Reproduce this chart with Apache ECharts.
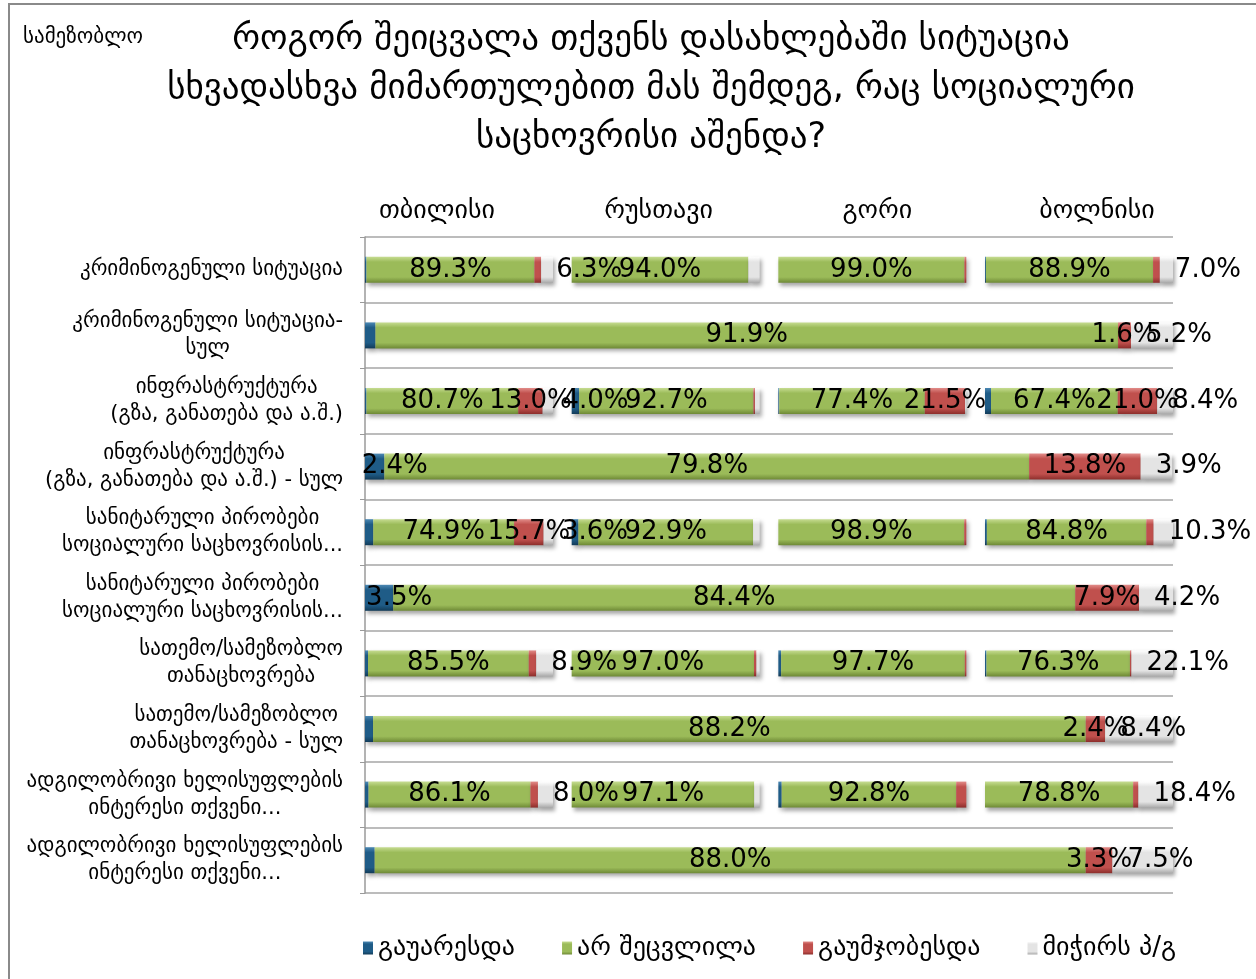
<!DOCTYPE html>
<html><head><meta charset="utf-8">
<script src="https://cdn.jsdelivr.net/npm/echarts@6/dist/echarts.min.js"></script>
<style>
html,body{margin:0;padding:0;background:#fff;overflow:hidden;}
#chart{position:absolute;left:0;top:0;width:1256px;height:979px;}
#frame{position:absolute;left:8px;top:3px;width:1270px;height:1000px;border:2px solid #8a8a8a;pointer-events:none;box-sizing:border-box;}
</style></head><body>
<div id="chart"></div><div id="frame"></div>
<script>
// ---------- data ----------
const cities = ['თბილისი', 'რუსთავი', 'გორი', 'ბოლნისი'];
const categories = [
  'კრიმინოგენული სიტუაცია',
  'კრიმინოგენული სიტუაცია-\nსულ',
  'ინფრასტრუქტურა\n(გზა, განათება და ა.შ.)',
  'ინფრასტრუქტურა\n(გზა, განათება და ა.შ.) - სულ',
  'სანიტარული პირობები\nსოციალური საცხოვრისის...',
  'სანიტარული პირობები\nსოციალური საცხოვრისის...',
  'სათემო/სამეზობლო\nთანაცხოვრება',
  'სათემო/სამეზობლო\nთანაცხოვრება - სულ',
  'ადგილობრივი ხელისუფლების\nინტერესი თქვენი...',
  'ადგილობრივი ხელისუფლების\nინტერესი თქვენი...'
];
const seriesNames = ['გაუარესდა', 'არ შეცვლილა', 'გაუმჯობესდა', 'მიჭირს პ/გ'];
const cityRows = [0, 2, 4, 6, 8];
const totalRows = [1, 3, 5, 7, 9];

// per city: worse, same, better, don't know  (rows 1,3,5,7,9)
const tbilisiWorse  = [0.8, 0.8, 4.4, 1.6, 1.9];
const tbilisiSame   = [89.3, 80.7, 74.9, 85.5, 86.1];
const tbilisiBetter = [3.6, 13.0, 15.7, 4.0, 4.0];
const tbilisiDk     = [6.3, 5.5, 5.0, 8.9, 8.0];

const rustaviWorse  = [0, 4.0, 3.6, 0, 0];
const rustaviSame   = [94.0, 92.7, 92.9, 97.0, 97.1];
const rustaviBetter = [0, 0.8, 0, 1.3, 0];
const rustaviDk     = [6.0, 2.5, 3.5, 1.7, 2.9];

const goriWorse  = [0, 0.5, 0, 1.5, 1.8];
const goriSame   = [99.0, 77.4, 98.9, 97.7, 92.8];
const goriBetter = [1.0, 21.5, 1.1, 0.8, 5.4];
const goriDk     = [0, 0.6, 0, 0, 0];

const bolnisiWorse  = [0.5, 3.2, 1.0, 0.8, 0];
const bolnisiSame   = [88.9, 67.4, 84.8, 76.3, 78.8];
const bolnisiBetter = [3.6, 21.0, 3.9, 0.8, 2.8];
const bolnisiDk     = [7.0, 8.4, 10.3, 22.1, 18.4];

// totals (rows 2,4,6,8,10)
const totalWorse  = [1.3, 2.4, 3.5, 1.0, 1.2];
const totalSame   = [91.9, 79.8, 84.4, 88.2, 88.0];
const totalBetter = [1.6, 13.8, 7.9, 2.4, 3.3];
const totalDk     = [5.2, 3.9, 4.2, 8.4, 7.5];

const cityData = [
  [tbilisiWorse, tbilisiSame, tbilisiBetter, tbilisiDk],
  [rustaviWorse, rustaviSame, rustaviBetter, rustaviDk],
  [goriWorse, goriSame, goriBetter, goriDk],
  [bolnisiWorse, bolnisiSame, bolnisiBetter, bolnisiDk]
];
const totalData = [totalWorse, totalSame, totalBetter, totalDk];

// ---------- styling ----------
const FONT = 'DejaVu Sans';
const G = echarts.graphic.LinearGradient;
function bevel(light, base, dark) {
  return new G(0, 0, 0, 1, [
    {offset: 0, color: light}, {offset: 0.2, color: base},
    {offset: 0.78, color: base}, {offset: 1, color: dark}
  ]);
}
const fills = [
  bevel('#4C88B3', '#1F5C87', '#123B58'),
  bevel('#C6DC91', '#9BBB59', '#6E8936'),
  bevel('#E28C89', '#C0504D', '#8C2E2B'),
  bevel('#FFFFFF', '#E4E4E4', '#A9A9A9')
];

function spread(values, rows) {
  const out = new Array(categories.length).fill('-');
  rows.forEach((r, i) => { out[r] = values[i]; });
  return out;
}
function labelFor(sIdx, minVal) {
  const base = {
    show: true, color: '#000', fontFamily: FONT, fontSize: 26,
    formatter: p => (typeof p.value === 'number' && p.value >= minVal) ? p.value.toFixed(1) + '%' : ''
  };
  if (sIdx === 0) return Object.assign(base, {position: 'inside', offset: [20, 0]});
  if (sIdx === 3) return Object.assign(base, {position: 'insideLeft', distance: 5, offset: [10, 0]});
  return Object.assign(base, {position: 'inside'});
}
const itemStyleFor = s => ({
  color: fills[s], shadowBlur: 4, shadowColor: 'rgba(0,0,0,0.35)', shadowOffsetX: 2, shadowOffsetY: 3
});

const PLOT_LEFT = 365, PLOT_TOP = 237, PLOT_W = 808, PLOT_H = 656;
const PANEL_W = 188, PANEL_PITCH = (PLOT_W - PANEL_W) / 3;
const headerShift = [44, 14, -10, -36];

const grids = [], xAxes = [], yAxes = [], series = [];
cities.forEach((city, i) => {
  grids.push({left: PLOT_LEFT + i * PANEL_PITCH, top: PLOT_TOP, width: PANEL_W, height: PLOT_H,
              containLabel: false, outerBoundsMode: 'none'});
  xAxes.push({
    gridIndex: i, type: 'value', min: 0, max: 100, position: 'top',
    axisLine: {show: false}, axisTick: {show: false}, axisLabel: {show: false}, splitLine: {show: false},
    name: city, nameLocation: 'middle', nameGap: 13,
    nameTextStyle: {fontFamily: FONT, fontSize: 26, color: '#000',
      padding: headerShift[i] > 0 ? [0, headerShift[i], 0, 0] : [0, 0, 0, -headerShift[i]]}
  });
  yAxes.push({gridIndex: i, type: 'category', data: categories, inverse: true, show: false});
  for (let s = 0; s < 4; s++) {
    const minVal = (s === 0 && i === 1) ? 3 : 6.2;
    series.push({
      type: 'bar', name: seriesNames[s], xAxisIndex: i, yAxisIndex: i, stack: 'city' + i,
      barWidth: 26, data: spread(cityData[i][s], cityRows),
      itemStyle: itemStyleFor(s), label: labelFor(s, minVal)
    });
  }
});
grids.push({left: PLOT_LEFT, top: PLOT_TOP, width: PLOT_W, height: PLOT_H, containLabel: false, outerBoundsMode: 'none'});
xAxes.push({gridIndex: 4, type: 'value', min: 0, max: 100, show: false});
yAxes.push({
  gridIndex: 4, type: 'category', data: categories, inverse: true,
  axisLine: {show: true, lineStyle: {color: '#9a9a9a', width: 1.5}},
  axisTick: {show: true, length: 5, lineStyle: {color: '#9a9a9a'}},
  splitLine: {show: true, lineStyle: {color: '#a6a6a6', width: 1.5}},
  axisLabel: {
    interval: 0, margin: 22, color: '#000',
    formatter: v => v.split('\n').map(l => '{c|' + l + '}').join('\n'),
    rich: {c: {align: 'center', fontFamily: FONT, fontSize: 21, lineHeight: 27, color: '#000'}}
  }
});
for (let s = 0; s < 4; s++) {
  series.push({
    type: 'bar', name: seriesNames[s], xAxisIndex: 4, yAxisIndex: 4, stack: 'total',
    barWidth: 26, data: spread(totalData[s], totalRows),
    itemStyle: itemStyleFor(s), label: labelFor(s, 1.5)
  });
}

const chart = echarts.init(document.getElementById('chart'), null, {renderer: 'canvas'});
chart.setOption({
  animation: false,
  backgroundColor: '#fff',
  title: [
    {text: 'სამეზობლო', left: 18, top: 22,
     textStyle: {fontFamily: FONT, fontSize: 21, fontWeight: 'normal', color: '#000'}},
    {text: 'როგორ შეიცვალა თქვენს დასახლებაში სიტუაცია\nსხვადასხვა მიმართულებით მას შემდეგ, რაც სოციალური\nსაცხოვრისი აშენდა?',
     left: 646, top: 10, textAlign: 'center',
     textStyle: {fontFamily: FONT, fontSize: 35, fontWeight: 'normal', lineHeight: 49, color: '#000'}}
  ],
  legend: {
    data: seriesNames, left: 358, top: 930, itemWidth: 10, itemHeight: 13, itemGap: 47,
    icon: 'rect',
    textStyle: {fontFamily: FONT, fontSize: 26, color: '#000'}
  },
  grid: grids, xAxis: xAxes, yAxis: yAxes, series: series
});
</script>
</body></html>
